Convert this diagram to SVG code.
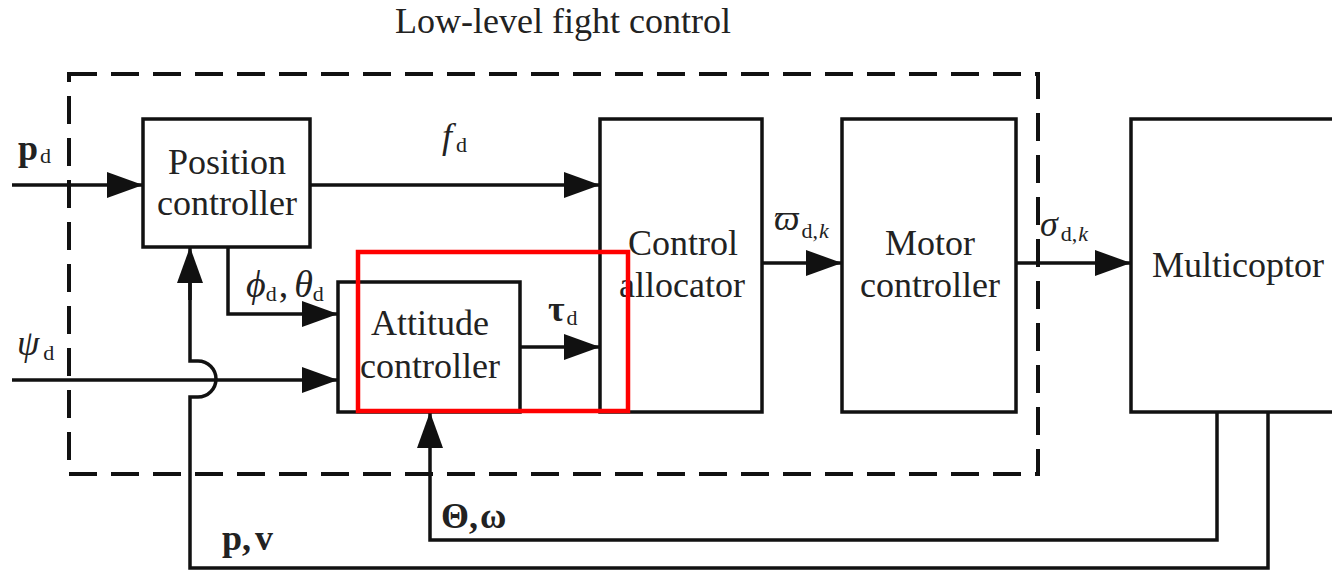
<svg xmlns="http://www.w3.org/2000/svg" width="1332" height="572" viewBox="0 0 1332 572">
<style>
.box{fill:none;stroke:#111;stroke-width:3.5}
.ln{fill:none;stroke:#111;stroke-width:3.5}
.arr{fill:none;stroke:#111;stroke-width:3.5;marker-end:url(#ah)}
.dash{fill:none;stroke:#111;stroke-width:4;stroke-dasharray:28 14}
.t{font-family:"Liberation Serif","Times New Roman",serif;font-size:36px;fill:#222}
.m{font-family:"Liberation Serif","Times New Roman",serif;fill:#222}
.sub{font-size:22px;font-style:normal;font-weight:normal}
</style>
<defs>
<marker id="ah" markerUnits="userSpaceOnUse" markerWidth="38" markerHeight="28" refX="36" refY="13" orient="auto">
<path d="M0,0 L36,13 L0,26 z" fill="#111"/>
</marker>
</defs>
<rect width="1332" height="572" fill="#fff"/>
<text class="t" x="395" y="33">Low-level fight control</text>
<rect id="lowlevel" class="dash" x="69" y="74" width="969" height="400"/>
<g id="connectors">
<path class="arr" d="M12,185 H143"/>
<path class="arr" d="M310,185 H600"/>
<path class="arr" d="M762,263 H842"/>
<path class="arr" d="M1016,263 H1131"/>
<path class="arr" d="M520,347 H600"/>
<path class="arr" d="M228,247 V314 H338"/>
<path class="arr" d="M12,380 H338"/>
<path class="arr" d="M1217,412 V540 H430 V412"/>
<path class="ln" d="M1268,412 V568 H190 V397 H198 A18,18 0 0 0 198,361 H190 V270"/>
<path class="arr" d="M190,300 V247"/>
</g>
<g id="position">
<rect class="box" x="143" y="119" width="167" height="128"/>
<text class="t" x="227" y="174" text-anchor="middle">Position</text>
<text class="t" x="227" y="215" text-anchor="middle">controller</text>
</g>
<g id="attitude">
<rect class="box" x="338" y="282" width="182" height="130"/>
<text class="t" x="430" y="335" text-anchor="middle">Attitude</text>
<text class="t" x="430" y="378" text-anchor="middle">controller</text>
</g>
<g id="allocator">
<rect class="box" x="600" y="119" width="162" height="293"/>
<text class="t" x="683" y="255" text-anchor="middle">Control</text>
<text class="t" x="682" y="297" text-anchor="middle">allocator</text>
</g>
<g id="motor">
<rect class="box" x="842" y="119" width="174" height="293"/>
<text class="t" x="930" y="255" text-anchor="middle">Motor</text>
<text class="t" x="930" y="297" text-anchor="middle">controller</text>
</g>
<g id="multicoptor">
<path class="box" d="M1345,119 H1131 V412 H1345"/>
<text class="t" x="1152" y="277">Multicoptor</text>
</g>
<g id="labels">
<text class="m" x="18" y="160" font-size="36" font-weight="bold">p<tspan class="sub" dx="2" dy="3">d</tspan></text>
<text class="m" x="442" y="148" font-size="36" font-style="italic">f<tspan class="sub" dx="4" dy="4">d</tspan></text>
<text class="m" x="246" y="297" font-size="38" font-style="italic">ϕ<tspan class="sub" dy="4">d</tspan><tspan dy="-4" dx="2" font-style="normal">,</tspan><tspan dx="6">θ</tspan><tspan class="sub" dy="4">d</tspan></text>
<text class="m" x="548" y="321" font-size="36" font-weight="bold">τ<tspan class="sub" dx="2" dy="4">d</tspan></text>
<text class="m" x="17" y="355" font-size="36" font-style="italic">ψ<tspan class="sub" dx="4" dy="5">d</tspan></text>
<text class="m" x="774" y="230" font-size="36" font-style="italic">ϖ<tspan class="sub" dx="2" dy="8">d,</tspan><tspan font-size="22px" dx="1">k</tspan></text>
<text class="m" x="1040" y="236" font-size="36" font-style="italic">σ<tspan class="sub" dx="3" dy="5">d,</tspan><tspan font-size="22px" dx="1">k</tspan></text>
<text class="m" x="441" y="528" font-size="36" font-weight="bold">Θ,<tspan dx="2">ω</tspan></text>
<text class="m" x="222" y="550" font-size="36" font-weight="bold">p,<tspan dx="4">v</tspan></text>
</g>
<rect id="highlight" x="358" y="252" width="270" height="159" fill="none" stroke="#ff0000" stroke-width="4.5"/>
</svg>
